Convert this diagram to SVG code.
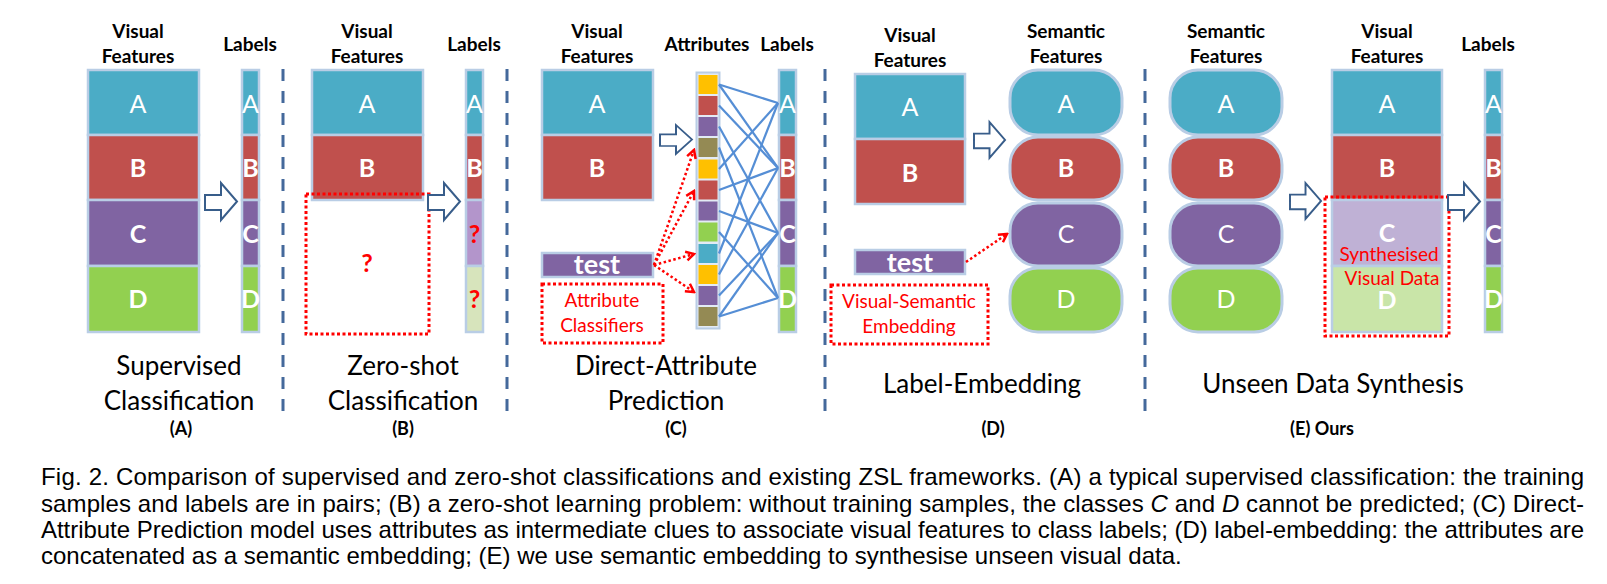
<svg xmlns="http://www.w3.org/2000/svg" width="1607" height="584" viewBox="0 0 1607 584">
<defs>
<style>
.hdr{font-family:Lato,"Open Sans","Liberation Sans",sans-serif;font-weight:700;font-size:19px;fill:#000;text-anchor:middle}
.ttl{font-family:Lato,"Open Sans","Liberation Sans",sans-serif;font-size:26px;fill:#000;text-anchor:middle}
.sub{font-family:Lato,"Open Sans","Liberation Sans",sans-serif;font-weight:700;font-size:18px;fill:#000;text-anchor:middle}
.lt{font-family:Lato,"Open Sans","Liberation Sans",sans-serif;font-size:25px;fill:#fff;text-anchor:middle}
.bd{font-weight:700}
.q{fill:#f00;font-weight:700}
.tst{font-family:Lato,"Open Sans","Liberation Sans",sans-serif;font-size:27px;font-weight:700;fill:#fff;text-anchor:middle}
.rt{font-family:Lato,"Open Sans","Liberation Sans",sans-serif;font-size:19px;fill:#f00;text-anchor:middle}
.cell{stroke:#B9CDE5;stroke-width:2.5}
.rnd{stroke:#B9CDE5;stroke-width:3}
.ca{fill:#4BACC6}
.cb{fill:#C0504D}
.cc{fill:#8064A2}
.cd{fill:#92D050}
.cy{fill:#FFC000}
.co{fill:#948A54}
.sep{stroke:#44699B;stroke-width:3;stroke-dasharray:12 10;fill:none}
.dot{fill:none;stroke:#f00;stroke-width:3;stroke-dasharray:3 2.5}
.barrow{fill:#fff;stroke:#385D8A;stroke-width:2}
.link{stroke:#558ED5;stroke-width:2.2;fill:none}
.rarr{stroke:#f00;stroke-width:2.5;stroke-dasharray:2.5 2.5;fill:none;marker-end:url(#rh)}
.cap{font-family:"Liberation Sans",Arial,sans-serif;font-size:24px;fill:#000}
</style>
<marker id="rh" markerUnits="userSpaceOnUse" markerWidth="12" markerHeight="12" refX="10" refY="6" orient="auto" viewBox="0 0 12 12"><path d="M2,1.5 L10,6 L2,10.5" fill="none" stroke="#f00" stroke-width="2.5"/></marker>
<path id="barr" d="M0,12 H16 V0 L32,18.5 L16,37 V27 H0 Z"/>
</defs>
<rect width="1607" height="584" fill="#fff"/>

<g id="separators">
<line class="sep" x1="283" y1="69" x2="283" y2="412"/>
<line class="sep" x1="507" y1="69" x2="507" y2="412"/>
<line class="sep" x1="825" y1="69" x2="825" y2="412"/>
<line class="sep" x1="1145" y1="69" x2="1145" y2="412"/>
</g>

<g id="panelA">
<text class="hdr" x="138" y="38">Visual</text>
<text class="hdr" x="138" y="63">Features</text>
<text class="hdr" x="250" y="51">Labels</text>
<g id="A-visual">
<rect class="cell ca" x="88" y="70" width="111" height="65"/>
<rect class="cell cb" x="88" y="135" width="111" height="65"/>
<rect class="cell cc" x="88" y="200" width="111" height="66"/>
<rect class="cell cd" x="88" y="266" width="111" height="66"/>
<text class="lt" x="138" y="113">A</text>
<text class="lt bd" x="138" y="177">B</text>
<text class="lt bd" x="138" y="243">C</text>
<text class="lt bd" x="138" y="308">D</text>
</g>
<g id="A-labels">
<rect class="cell ca" x="242" y="70" width="17" height="65"/>
<rect class="cell cb" x="242" y="135" width="17" height="65"/>
<rect class="cell cc" x="242" y="200" width="17" height="66"/>
<rect class="cell cd" x="242" y="266" width="17" height="66"/>
<text class="lt" x="250.5" y="113">A</text>
<text class="lt bd" x="250.5" y="177">B</text>
<text class="lt bd" x="250.5" y="243">C</text>
<text class="lt bd" x="250.5" y="308">D</text>
</g>
<text class="ttl" x="179" y="375">Supervised</text>
<text class="ttl" x="179" y="410">Classification</text>
<text class="sub" x="181" y="435">(A)</text>
</g>

<g id="panelB">
<text class="hdr" x="367" y="38">Visual</text>
<text class="hdr" x="367" y="63">Features</text>
<text class="hdr" x="474" y="51">Labels</text>
<g id="B-visual">
<rect class="cell ca" x="312" y="70" width="111" height="65"/>
<rect class="cell cb" x="312" y="135" width="111" height="65"/>
<text class="lt" x="367" y="113">A</text>
<text class="lt bd" x="367" y="177">B</text>
</g>
<g id="B-unknown">
<rect class="dot" x="306" y="194" width="123" height="140"/>
<text class="lt q" x="367" y="272">?</text>
</g>
<g id="B-labels">
<rect class="cell ca" x="466" y="70" width="17" height="65"/>
<rect class="cell cb" x="466" y="135" width="17" height="65"/>
<rect class="cell" fill="#B395CB" x="466" y="200" width="17" height="66"/>
<rect class="cell" fill="#D7E4BC" x="466" y="266" width="17" height="66"/>
<text class="lt" x="474.5" y="113">A</text>
<text class="lt bd" x="474.5" y="177">B</text>
<text class="lt q" x="474.5" y="243">?</text>
<text class="lt q" x="474.5" y="308">?</text>
</g>
<text class="ttl" x="403" y="375">Zero-shot</text>
<text class="ttl" x="403" y="410">Classification</text>
<text class="sub" x="403" y="435">(B)</text>
</g>

<g id="panelC">
<text class="hdr" x="597" y="38">Visual</text>
<text class="hdr" x="597" y="63">Features</text>
<text class="hdr" x="707" y="51">Attributes</text>
<text class="hdr" x="787" y="51">Labels</text>
<g id="C-visual">
<rect class="cell ca" x="542" y="70" width="111" height="65"/>
<rect class="cell cb" x="542" y="135" width="111" height="65"/>
<text class="lt" x="597" y="113">A</text>
<text class="lt bd" x="597" y="177">B</text>
</g>
<g id="C-test">
<rect class="cell cc" x="542" y="253" width="111" height="24"/>
<text class="tst" x="597" y="274">test</text>
</g>
<g id="C-classifiers">
<rect class="dot" x="542" y="284" width="121" height="59"/>
<text class="rt" x="602" y="307">Attribute</text>
<text class="rt" x="602" y="332">Classifiers</text>
</g>
<g id="C-attributes">
<rect x="696.5" y="72.5" width="23" height="256" fill="#E3EBF5" stroke="#B9CDE5" stroke-width="2"/>
<rect class="cy" x="698.5" y="75" width="19" height="19"/>
<rect class="cb" x="698.5" y="96" width="19" height="19"/>
<rect class="cc" x="698.5" y="117" width="19" height="19"/>
<rect class="co" x="698.5" y="138" width="19" height="19"/>
<rect class="cy" x="698.5" y="159.5" width="19" height="19"/>
<rect class="cb" x="698.5" y="180.5" width="19" height="19"/>
<rect class="cc" x="698.5" y="201.5" width="19" height="19"/>
<rect class="cd" x="698.5" y="222.5" width="19" height="19"/>
<rect class="ca" x="698.5" y="244" width="19" height="19"/>
<rect class="cy" x="698.5" y="265" width="19" height="19"/>
<rect class="cc" x="698.5" y="286" width="19" height="19"/>
<rect class="co" x="698.5" y="307" width="19" height="19"/>
</g>
<g id="C-labels">
<rect class="cell ca" x="779" y="70" width="17" height="65"/>
<rect class="cell cb" x="779" y="135" width="17" height="65"/>
<rect class="cell cc" x="779" y="200" width="17" height="66"/>
<rect class="cell cd" x="779" y="266" width="17" height="66"/>
<text class="lt" x="787.5" y="113">A</text>
<text class="lt bd" x="787.5" y="177">B</text>
<text class="lt bd" x="787.5" y="243">C</text>
<text class="lt bd" x="787.5" y="308">D</text>
</g>
<text class="ttl" x="666" y="375">Direct-Attribute</text>
<text class="ttl" x="666" y="410">Prediction</text>
<text class="sub" x="676" y="435">(C)</text>
</g>

<g id="panelD">
<text class="hdr" x="910" y="42">Visual</text>
<text class="hdr" x="910" y="67">Features</text>
<text class="hdr" x="1066" y="38">Semantic</text>
<text class="hdr" x="1066" y="63">Features</text>
<g id="D-visual">
<rect class="cell ca" x="855" y="74" width="110" height="65"/>
<rect class="cell cb" x="855" y="139" width="110" height="65"/>
<text class="lt" x="910" y="116">A</text>
<text class="lt bd" x="910" y="182">B</text>
</g>
<g id="D-semantic">
<rect class="rnd ca" x="1010" y="70" width="112" height="65" rx="28"/>
<rect class="rnd cb" x="1010" y="137" width="112" height="63" rx="28"/>
<rect class="rnd cc" x="1010" y="203" width="112" height="63" rx="28"/>
<rect class="rnd cd" x="1010" y="268" width="112" height="64" rx="28"/>
<text class="lt" x="1066" y="113">A</text>
<text class="lt bd" x="1066" y="177">B</text>
<text class="lt" x="1066" y="243">C</text>
<text class="lt" x="1066" y="308">D</text>
</g>
<g id="D-test">
<rect class="cell cc" x="855" y="250" width="110" height="24"/>
<text class="tst" x="910" y="272">test</text>
</g>
<g id="D-embedding">
<rect class="dot" x="831" y="285" width="157" height="59"/>
<text class="rt" x="909" y="308">Visual-Semantic</text>
<text class="rt" x="909" y="333">Embedding</text>
</g>
<text class="ttl" x="982" y="393">Label-Embedding</text>
<text class="sub" x="993" y="435">(D)</text>
</g>

<g id="panelE">
<text class="hdr" x="1226" y="38">Semantic</text>
<text class="hdr" x="1226" y="63">Features</text>
<text class="hdr" x="1387" y="38">Visual</text>
<text class="hdr" x="1387" y="63">Features</text>
<text class="hdr" x="1488" y="51">Labels</text>
<g id="E-semantic">
<rect class="rnd ca" x="1170" y="70" width="112" height="65" rx="28"/>
<rect class="rnd cb" x="1170" y="137" width="112" height="63" rx="28"/>
<rect class="rnd cc" x="1170" y="203" width="112" height="63" rx="28"/>
<rect class="rnd cd" x="1170" y="268" width="112" height="64" rx="28"/>
<text class="lt" x="1226" y="113">A</text>
<text class="lt bd" x="1226" y="177">B</text>
<text class="lt" x="1226" y="243">C</text>
<text class="lt" x="1226" y="308">D</text>
</g>
<g id="E-visual">
<rect class="cell ca" x="1332" y="70" width="110" height="65"/>
<rect class="cell cb" x="1332" y="135" width="110" height="65"/>
<rect class="cell" fill="#BFB1D5" x="1332" y="200" width="110" height="66"/>
<rect class="cell" fill="#C9E5A8" x="1332" y="266" width="110" height="66"/>
<text class="lt" x="1387" y="113">A</text>
<text class="lt bd" x="1387" y="177">B</text>
<text class="lt bd" x="1387" y="242">C</text>
<text class="lt bd" x="1387" y="309">D</text>
</g>
<g id="E-synthesised">
<rect class="dot" x="1325" y="197" width="124" height="139"/>
<text class="rt" x="1389" y="261">Synthesised</text>
<text class="rt" x="1392" y="285">Visual Data</text>
</g>
<g id="E-labels">
<rect class="cell ca" x="1485" y="70" width="17" height="65"/>
<rect class="cell cb" x="1485" y="135" width="17" height="65"/>
<rect class="cell cc" x="1485" y="200" width="17" height="66"/>
<rect class="cell cd" x="1485" y="266" width="17" height="66"/>
<text class="lt" x="1493.5" y="113">A</text>
<text class="lt bd" x="1493.5" y="177">B</text>
<text class="lt bd" x="1493.5" y="243">C</text>
<text class="lt bd" x="1493.5" y="308">D</text>
</g>
<text class="ttl" x="1333" y="393">Unseen Data Synthesis</text>
<text class="sub" x="1322" y="435">(E) Ours</text>
</g>

<g id="connectors">
<use href="#barr" class="barrow" transform="translate(205,183)"/>
<use href="#barr" class="barrow" transform="translate(428,183)"/>
<use href="#barr" class="barrow" transform="translate(660,125) scale(1,0.78)"/>
<use href="#barr" class="barrow" transform="translate(974,122) scale(0.97,0.97)"/>
<use href="#barr" class="barrow" transform="translate(1290,183) scale(0.97,0.97)"/>
<use href="#barr" class="barrow" transform="translate(1448,183)"/>
<line class="link" x1="719" y1="84.5" x2="778" y2="103"/>
<line class="link" x1="719" y1="84.5" x2="778" y2="168"/>
<line class="link" x1="719" y1="105.5" x2="778" y2="168"/>
<line class="link" x1="719" y1="126.5" x2="778" y2="233"/>
<line class="link" x1="719" y1="147.5" x2="778" y2="298"/>
<line class="link" x1="719" y1="169" x2="778" y2="103"/>
<line class="link" x1="719" y1="190" x2="778" y2="168"/>
<line class="link" x1="719" y1="211" x2="778" y2="233"/>
<line class="link" x1="719" y1="232" x2="778" y2="298"/>
<line class="link" x1="719" y1="253.5" x2="778" y2="103"/>
<line class="link" x1="719" y1="274.5" x2="778" y2="168"/>
<line class="link" x1="719" y1="295.5" x2="778" y2="233"/>
<line class="link" x1="719" y1="316.5" x2="778" y2="233"/>
<line class="link" x1="719" y1="316.5" x2="778" y2="298"/>
<path class="rarr" d="M654,265 L694,150"/>
<path class="rarr" d="M654,265 L694,191"/>
<path class="rarr" d="M654,265 L694,254"/>
<path class="rarr" d="M654,265 L694,292"/>
<path class="rarr" d="M966,262 L1007,234"/>
</g>

<g id="caption">
<text class="cap" x="41" y="485" textLength="1543" lengthAdjust="spacing">Fig. 2. Comparison of supervised and zero-shot classifications and existing ZSL frameworks. (A) a typical supervised classification: the training</text>
<text class="cap" x="41" y="512" textLength="1543" lengthAdjust="spacing">samples and labels are in pairs; (B) a zero-shot learning problem: without training samples, the classes <tspan font-style="italic">C</tspan> and <tspan font-style="italic">D</tspan> cannot be predicted; (C) Direct-</text>
<text class="cap" x="41" y="538" textLength="1543" lengthAdjust="spacing">Attribute Prediction model uses attributes as intermediate clues to associate visual features to class labels; (D) label-embedding: the attributes are</text>
<text class="cap" x="41" y="564">concatenated as a semantic embedding; (E) we use semantic embedding to synthesise unseen visual data.</text>
</g>
</svg>
